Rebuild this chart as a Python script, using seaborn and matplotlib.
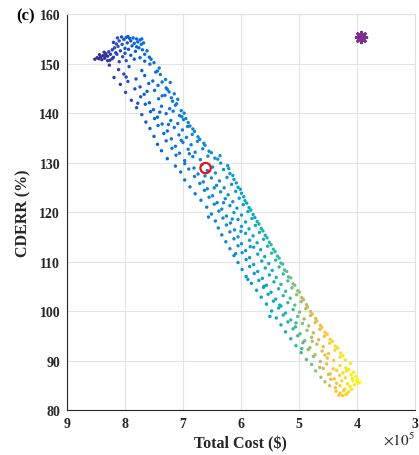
import numpy as np
import matplotlib
matplotlib.use("Agg")
import matplotlib.pyplot as plt
from matplotlib.colors import LinearSegmentedColormap
from matplotlib.ticker import FuncFormatter
import seaborn as sns

# ---------------- data: (total cost in 1e5 $, CDERR in %) ----------------
top_points = [
    (8.52, 150.9), (8.48, 151.2), (8.45, 151.0), (8.42, 151.4), (8.40, 150.8), (8.38, 151.6),
    (8.35, 151.1), (8.33, 152.0), (8.30, 151.5), (8.28, 152.4), (8.26, 150.7), (8.25, 151.9),
    (8.22, 152.8), (8.20, 151.3), (8.18, 153.2), (8.16, 152.2), (8.15, 154.0), (8.13, 155.2),
    (8.12, 153.5), (8.10, 154.6), (8.08, 152.6), (8.06, 155.4), (8.05, 153.9), (8.02, 154.9),
    (8.00, 153.1), (7.98, 155.3), (7.96, 154.2), (7.94, 152.9), (7.92, 155.1), (7.90, 154.6),
    (7.88, 153.6), (7.86, 155.2), (7.84, 154.1), (7.82, 152.5), (7.80, 155.0), (7.78, 154.4),
    (7.76, 153.2), (7.74, 154.8), (7.72, 153.9), (7.70, 152.8), (7.68, 154.2), (7.66, 151.9),
    (7.62, 152.6), (7.58, 151.3), (7.55, 150.9), (8.44, 151.8), (8.36, 152.3), (8.30, 150.6),
    (8.22, 151.0), (8.14, 151.9), (8.10, 150.4), (8.04, 151.4), (7.98, 150.6), (7.90, 151.7),
    (7.84, 150.9), (7.74, 151.2), (7.66, 150.5), (7.50, 150.2), (8.20, 154.3), (7.95, 155.5),
    (8.00, 152.1), (7.80, 153.4), (7.71, 155.0), (8.34, 151.6)]

upper_points = [
    (8.27, 149.7), (8.11, 148.8), (7.93, 149.4), (7.71, 148.6), (7.57, 149.9), (7.47, 148.3),
    (7.41, 149.1), (8.19, 147.2), (8.02, 147.9), (7.81, 146.9), (7.66, 147.6), (7.52, 146.5),
    (7.39, 147.8), (7.30, 146.8), (8.08, 145.8), (7.95, 146.4), (7.74, 145.3), (7.59, 146.0),
    (7.43, 145.6), (7.29, 145.1), (7.22, 146.2), (7.99, 144.2), (7.83, 144.9), (7.67, 143.8),
    (7.49, 144.6), (7.36, 143.5), (7.24, 144.3), (7.15, 143.9), (7.89, 142.6), (7.73, 143.3),
    (7.58, 142.1), (7.42, 142.9), (7.31, 143.6), (7.18, 142.4), (7.09, 142.8), (7.80, 141.1),
    (7.65, 141.8), (7.51, 140.7), (7.37, 141.4), (7.23, 140.9), (7.13, 141.6), (7.03, 140.5),
    (7.71, 139.7), (7.56, 140.3), (7.44, 139.2), (7.29, 139.9), (7.17, 140.4), (7.06, 139.5),
    (6.98, 140.0), (7.64, 138.2), (7.49, 138.9), (7.36, 137.8), (7.21, 138.5), (7.09, 137.9),
    (6.99, 138.7), (6.91, 138.1), (7.57, 136.9), (7.43, 137.5), (7.27, 136.4), (7.15, 137.1),
    (7.01, 136.6), (6.92, 137.3), (6.83, 136.8), (7.50, 135.3), (7.33, 135.9), (7.20, 134.8),
    (7.07, 135.6), (6.94, 135.1), (6.84, 135.7), (6.74, 135.2), (7.44, 133.7), (7.29, 134.4),
    (7.13, 133.3), (7.00, 134.1), (6.86, 133.6), (6.75, 134.3), (6.64, 133.9), (7.37, 132.4),
    (7.19, 132.9), (7.06, 131.9), (6.91, 132.7), (6.79, 132.1), (6.66, 132.8), (6.55, 132.3),
    (7.27, 130.8), (7.12, 131.5), (6.97, 130.4), (6.83, 131.2), (6.70, 130.6), (6.57, 131.3),
    (6.45, 130.9), (6.36, 131.4), (7.44, 148.5), (7.36, 146.3), (7.27, 144.8), (7.20, 143.1),
    (7.11, 141.9), (7.02, 139.3), (6.95, 138.9), (6.88, 137.4), (6.80, 136.3), (6.71, 134.7),
    (6.62, 133.5), (6.51, 132.0), (6.40, 130.7), (7.62, 144.4), (7.40, 140.2), (7.25, 137.7),
    (7.03, 134.5), (6.89, 131.8), (7.98, 147.3), (7.78, 142.0)]

middle_points = [
    (7.13, 129.3), (6.97, 129.8), (6.81, 128.9), (6.67, 129.6), (6.49, 129.1), (6.35, 129.9),
    (6.23, 129.4), (7.04, 128.1), (6.90, 128.7), (6.74, 127.7), (6.58, 128.4), (6.44, 127.9),
    (6.30, 128.6), (6.19, 127.8), (6.97, 126.5), (6.80, 127.2), (6.65, 126.1), (6.51, 126.9),
    (6.37, 126.3), (6.24, 127.0), (6.12, 126.6), (6.88, 125.1), (6.71, 125.8), (6.58, 124.7),
    (6.42, 125.4), (6.29, 124.9), (6.16, 125.6), (6.05, 125.0), (6.79, 123.7), (6.63, 124.4),
    (6.49, 123.3), (6.35, 124.1), (6.22, 123.5), (6.09, 124.2), (5.99, 123.8), (6.69, 122.4),
    (6.55, 123.0), (6.41, 121.9), (6.27, 122.7), (6.14, 122.1), (6.03, 122.8), (5.93, 122.3),
    (6.59, 121.0), (6.46, 121.6), (6.33, 120.6), (6.19, 121.3), (6.07, 120.8), (5.96, 121.5),
    (5.86, 120.9), (6.51, 119.6), (6.38, 120.2), (6.25, 119.2), (6.12, 119.9), (5.99, 119.4),
    (5.88, 120.1), (5.79, 119.5), (6.44, 118.2), (6.31, 118.8), (6.18, 117.8), (6.05, 118.5),
    (5.92, 118.0), (5.81, 118.7), (5.72, 118.1), (6.39, 116.8), (6.25, 117.4), (6.11, 116.4),
    (5.99, 117.1), (5.86, 116.6), (5.75, 117.3), (5.65, 116.7), (6.33, 115.4), (6.19, 116.0),
    (6.05, 115.0), (5.92, 115.7), (5.79, 115.2), (5.68, 115.9), (5.58, 115.3), (6.26, 114.0),
    (6.12, 114.6), (5.99, 113.6), (5.85, 114.3), (5.72, 113.8), (5.61, 114.5), (5.51, 113.9),
    (6.19, 112.6), (6.05, 113.2), (5.92, 112.2), (5.78, 112.9), (5.66, 112.4), (5.54, 113.1),
    (5.44, 112.5), (6.12, 111.2), (5.98, 111.8), (5.85, 110.8), (5.71, 111.5), (5.59, 111.0),
    (5.47, 111.7), (5.37, 111.1), (6.05, 109.8), (5.91, 110.4), (5.78, 109.4), (5.64, 110.1),
    (5.52, 109.6), (5.40, 110.3), (5.31, 109.7), (6.21, 128.8), (6.14, 127.4), (6.08, 125.9),
    (6.01, 124.6), (5.95, 123.1), (5.90, 121.8), (5.83, 120.4), (5.76, 118.9), (5.69, 117.6),
    (5.62, 116.2), (5.55, 114.8), (5.48, 113.4), (5.41, 112.0), (5.34, 110.7), (6.46, 124.9),
    (6.30, 121.9), (6.15, 118.6), (6.00, 116.1), (5.84, 113.0), (6.62, 127.3), (6.56, 119.0),
    (6.09, 111.6)]

lower_points = [
    (5.98, 108.4), (5.85, 109.0), (5.71, 108.0), (5.58, 108.7), (5.46, 108.2), (5.34, 108.9),
    (5.25, 108.3), (5.91, 107.0), (5.77, 107.6), (5.63, 106.6), (5.51, 107.3), (5.39, 106.8),
    (5.27, 107.5), (5.18, 106.9), (5.82, 105.6), (5.69, 106.2), (5.56, 105.2), (5.43, 105.9),
    (5.31, 105.4), (5.19, 106.1), (5.10, 105.5), (5.73, 104.2), (5.61, 104.8), (5.48, 103.8),
    (5.35, 104.5), (5.23, 104.0), (5.12, 104.7), (5.02, 104.1), (5.65, 102.8), (5.53, 103.4),
    (5.40, 102.4), (5.27, 103.1), (5.15, 102.6), (5.04, 103.3), (4.95, 102.7), (5.56, 101.4),
    (5.44, 102.0), (5.31, 101.0), (5.19, 101.7), (5.07, 101.2), (4.96, 101.9), (4.87, 101.3),
    (5.47, 100.0), (5.35, 100.6), (5.23, 99.6), (5.10, 100.3), (4.99, 99.8), (4.88, 100.5),
    (4.80, 99.9), (5.39, 98.6), (5.27, 99.2), (5.14, 98.2), (5.02, 98.9), (4.91, 98.4),
    (4.80, 99.1), (4.71, 98.5), (5.31, 97.2), (5.19, 97.8), (5.06, 96.8), (4.94, 97.5),
    (4.83, 97.0), (4.72, 97.7), (4.63, 97.1), (5.23, 95.8), (5.10, 96.4), (4.98, 95.4),
    (4.86, 96.1), (4.75, 95.6), (4.64, 96.3), (4.55, 95.7), (5.14, 94.4), (5.02, 95.0),
    (4.90, 94.0), (4.78, 94.7), (4.66, 94.2), (4.56, 94.9), (4.46, 94.3), (5.05, 93.0),
    (4.93, 93.6), (4.81, 92.6), (4.69, 93.3), (4.58, 92.8), (4.47, 93.5), (4.37, 92.9),
    (4.96, 91.6), (4.84, 92.2), (4.72, 91.2), (4.60, 91.9), (4.49, 91.4), (4.38, 92.1),
    (4.28, 91.5), (4.87, 90.2), (4.75, 90.8), (4.63, 89.8), (4.51, 90.5), (4.40, 90.0),
    (4.29, 90.7), (4.20, 90.1), (5.28, 109.5), (5.21, 108.0), (5.14, 106.7), (5.07, 105.2),
    (4.99, 103.8), (4.92, 102.3), (4.85, 100.8), (4.77, 99.4), (4.69, 98.0), (4.60, 96.7),
    (4.51, 95.3), (4.42, 93.9), (4.33, 92.5), (4.24, 91.0), (5.60, 105.0), (5.33, 101.2),
    (5.05, 97.6), (4.77, 93.9), (4.55, 91.1), (5.88, 106.4), (5.50, 98.9), (4.95, 92.4)]

tip_points = [
    (4.78, 89.2), (4.64, 88.6), (4.52, 89.3), (4.41, 88.3), (4.29, 89.0), (4.19, 88.5),
    (4.11, 89.4), (4.71, 87.9), (4.58, 88.4), (4.46, 87.3), (4.35, 88.0), (4.24, 87.5),
    (4.14, 88.2), (4.06, 87.6), (4.62, 86.6), (4.49, 87.2), (4.39, 86.3), (4.30, 87.0),
    (4.20, 86.5), (4.10, 87.1), (4.02, 86.8), (4.55, 85.7), (4.45, 86.2), (4.35, 85.4),
    (4.26, 85.9), (4.16, 85.3), (4.07, 85.9), (3.99, 86.2), (3.95, 85.6), (4.47, 84.9),
    (4.37, 84.5), (4.29, 84.9), (4.21, 84.2), (4.12, 84.8), (4.04, 85.1), (3.98, 85.4),
    (4.36, 83.8), (4.29, 83.4), (4.23, 83.9), (4.17, 83.3), (4.09, 84.2), (4.31, 83.0),
    (4.25, 82.9), (4.19, 83.1), (4.14, 83.7), (4.00, 85.8), (4.08, 86.4), (4.18, 87.9)]

selected_point = (6.61, 128.9)   # red circle
utopia_point = (3.93, 155.3)     # purple asterisk

x_ticks = [9, 8, 7, 6, 5, 4, 3]
y_ticks = [80, 90, 100, 110, 120, 130, 140, 150, 160]

# ---------------- assemble ----------------
all_points = np.array(top_points + upper_points + middle_points + lower_points + tip_points)
cost = all_points[:, 0] * 1e5
cderr = all_points[:, 1]

# colour position along the parula map (third objective, approximated)
score = 9 - all_points[:, 0] + 0.02 * cderr
score_knots = [3.5, 3.9, 4.2, 4.5, 4.9, 5.25, 5.55, 5.9, 6.2, 6.45, 6.8]
frac_knots = [0.0, 0.06, 0.13, 0.19, 0.25, 0.30, 0.38, 0.50, 0.70, 0.86, 1.0]
colour_value = np.interp(score, score_knots, frac_knots)

parula_anchors = [
    (0.2081, 0.1663, 0.5292), (0.1707, 0.2919, 0.7792), (0.0117, 0.3875, 0.8820),
    (0.0629, 0.4737, 0.8554), (0.0641, 0.5570, 0.8240), (0.0231, 0.6418, 0.7913),
    (0.0843, 0.6928, 0.7062), (0.2586, 0.7317, 0.5954), (0.4871, 0.7491, 0.4840),
    (0.6834, 0.7435, 0.4044), (0.8507, 0.7299, 0.3360), (0.9938, 0.7455, 0.2403),
    (0.9789, 0.8271, 0.1633), (0.9598, 0.9218, 0.0948), (0.9763, 0.9831, 0.0538)]
parula = LinearSegmentedColormap.from_list("parula", parula_anchors)

# ---------------- figure ----------------
sns.set_theme(style="white")
plt.rcParams["font.family"] = ["Liberation Serif", "DejaVu Serif"]
plt.rcParams["mathtext.fontset"] = "stix"

fig = plt.figure(figsize=(4.19, 4.56), dpi=100)
ax = fig.add_axes([0.160, 0.0987, 0.830, 0.868])

sns.scatterplot(x=cost, y=cderr, hue=colour_value, palette=parula, hue_norm=(0, 1),
                s=6, linewidth=0, legend=False, ax=ax, zorder=3)

ax.scatter([selected_point[0] * 1e5], [selected_point[1]], s=55, facecolors="none",
           edgecolors="#e8141c", linewidths=1.6, zorder=5)
ax.scatter([utopia_point[0] * 1e5], [utopia_point[1]], s=60, marker=(8, 2, 0),
           color="#7e2f8e", linewidths=2.0, zorder=5)

ax.set_xlim(9e5, 3e5)
ax.set_ylim(80, 160)
ax.set_xticks([v * 1e5 for v in x_ticks])
ax.xaxis.set_major_formatter(FuncFormatter(lambda v, p: f"{v/1e5:g}"))
ax.set_yticks(y_ticks)

ax.grid(True, color="#e3e3e3", linewidth=0.8, zorder=0)
ax.set_axisbelow(True)
for side in ["left", "bottom"]:
    ax.spines[side].set_color("#262626")
    ax.spines[side].set_linewidth(0.8)
for side in ["top", "right"]:
    ax.spines[side].set_color("#e0e0e0")
    ax.spines[side].set_linewidth(0.8)

ax.tick_params(axis="both", which="both", direction="in", length=3, width=0.6,
               colors="#262626", labelsize=10, pad=5)
for lab in ax.get_xticklabels() + ax.get_yticklabels():
    lab.set_fontweight("bold")

ax.set_xlabel("Total Cost ($)", fontsize=11.5, fontweight="bold", color="#262626", labelpad=4)
ax.set_ylabel("CDERR (%)", fontsize=11.5, fontweight="bold", color="#262626", labelpad=6)

ax.text(1.0, -0.073, r"$\times10^{5}$", transform=ax.transAxes, ha="right", va="center",
        fontsize=11, color="#262626")
fig.text(0.038, 0.963, "(c)", fontsize=12, fontweight="bold", ha="left", va="center",
         color="black")

fig.savefig("out.png", dpi=100)
